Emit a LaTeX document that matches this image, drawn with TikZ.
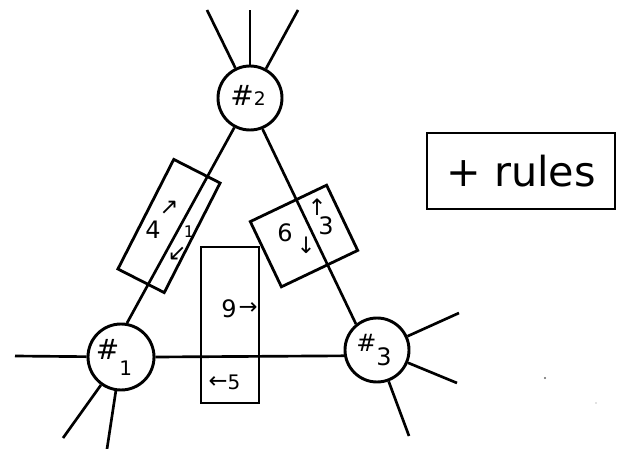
\documentclass[tikz,border=0pt]{standalone}
\usepackage{fontspec}
\setmainfont{DejaVu Sans}
\begin{document}
\begin{tikzpicture}[x=0.75pt,y=-0.75pt,
		site/.style={draw,circle,line width=2.2pt,inner sep=0pt},
		link/.style={line width=2pt},
		slot/.style={draw,line width=2.1pt,inner sep=0pt},
		hand/.style={inner sep=0pt,font=\fontsize{18}{18}\selectfont},
		small hand/.style={inner sep=0pt,font=\fontsize{12}{12}\selectfont},
		pointer/.style={inner sep=0pt,font=\fontsize{17}{17}\selectfont}]
	\useasboundingbox (0,0) rectangle (617,449);
	% processors
	\node[site,minimum size=49.5pt] (n1) at (121,357) {};
	\node[site,minimum size=48pt] (n2) at (250,98) {};
	\node[site,minimum size=48pt] (n3) at (377,350) {};
	\node[inner sep=0pt,font=\fontsize{21}{21}\selectfont] (t1) at (114,357) {\#\raisebox{-12pt}{\fontsize{15}{15}\selectfont 1}};
	\node[inner sep=0pt,font=\fontsize{21}{21}\selectfont] (t2) at (248,95) {\#\fontsize{14}{14}\selectfont 2};
	\node[inner sep=0pt,font=\fontsize{18}{18}\selectfont] (t3) at (374,350) {\#\raisebox{-10pt}{3}};
	% channels between processors
	\draw[link] (n1.80) -- (n2.242);
	\draw[link] (n2.292) -- (n3.129);
	\draw[link] (n1.east) -- (n3.190);
	% channels to the outside
	\coordinate (o1a) at (15,356);
	\coordinate (o1b) at (63,438);
	\coordinate (o1c) at (107,449);
	\coordinate (o2a) at (207,10);
	\coordinate (o2b) at (250,10);
	\coordinate (o2c) at (298,10);
	\coordinate (o3a) at (459,313);
	\coordinate (o3b) at (457,383);
	\coordinate (o3c) at (409,436);
	\foreach \n/\o in {n1/o1a,n1/o1b,n1/o1c,n2/o2a,n2/o2b,n2/o2c,n3/o3a,n3/o3b,n3/o3c}
		\draw[link] (\n) -- (\o);
	% buffers
	\node[slot,minimum width=92.25pt,minimum height=39pt,rotate=63] (b4) at (169,226) {};
	\node[slot,minimum width=63.4pt,minimum height=54.2pt,rotate=25.5] (b6) at (304,236) {};
	\node[slot,minimum width=43.5pt,minimum height=117pt] (b9) at (230,325) {};
	\node[hand] (l4) at (153,230) {4};
	\node[pointer] (u4) at (169,208) {↗};
	\node[small hand] (l1) at (189,232) {1};
	\node[pointer] (d1) at (177,254) {↙};
	\node[hand] (l6) at (285,233) {6};
	\node[pointer] (d6) at (306,245) {↓};
	\node[hand] (l3) at (326,226) {3};
	\node[pointer] (u3) at (317,207) {↑};
	\node[hand] (l9) at (229,309) {9};
	\node[pointer] (r9) at (248,309) {→};
	\node[pointer] (r5) at (218,383) {←};
	\node[hand,font=\fontsize{15}{15}\selectfont] (l5) at (234,382) {5};
	% note
	\node[draw,line width=1.6pt,inner sep=0pt,minimum width=141pt,minimum height=57pt,
		font=\fontsize{31}{31}\selectfont] (rules) at (521,171) {+ rules};
	% scan specks
	\fill[black!60] (545,378) circle (0.8pt);
	\fill[black!50] (596,403) circle (0.5pt);
\end{tikzpicture}
\end{document}
